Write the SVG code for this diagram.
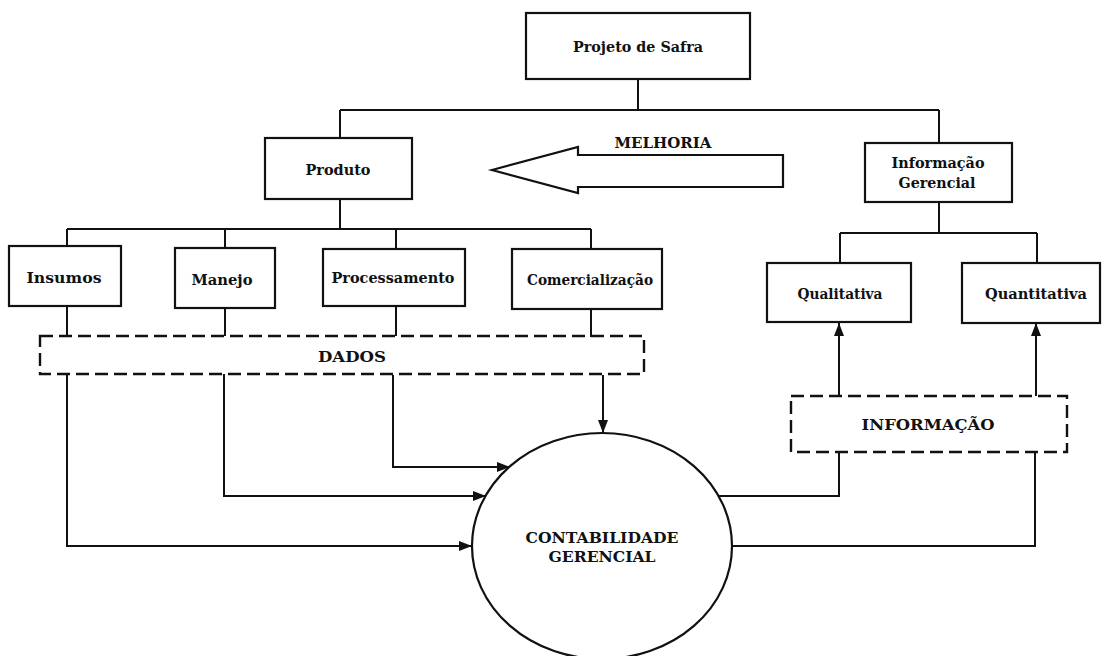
<svg xmlns="http://www.w3.org/2000/svg" width="1104" height="656" viewBox="0 0 1104 656">
  <style>
    .box { fill: #ffffff; stroke: #111111; stroke-width: 2.2; }
    .dash { fill: none; stroke: #111111; stroke-width: 2.4; stroke-dasharray: 13 6; }
    .wire { fill: none; stroke: #111111; stroke-width: 2; }
    .lbl { font-family: "DejaVu Serif", "Liberation Serif", serif; font-size: 15px; font-weight: bold; fill: #111111; text-anchor: middle; }
  </style>
  <defs>
    <marker id="arrow" viewBox="0 0 13 10" refX="13" refY="5" markerWidth="13" markerHeight="10" markerUnits="userSpaceOnUse" orient="auto">
      <path d="M0,0 L13,5 L0,10 z" fill="#111111"/>
    </marker>
  </defs>

  <rect width="1104" height="656" fill="#ffffff"/>

  <!-- tree connectors and data flows -->
  <g id="connectors">
    <!-- Projeto de Safra branches -->
    <path class="wire" d="M638,79 V110 M340,110 H939 M340,110 V138 M939,110 V143"/>
    <!-- Produto branches -->
    <path class="wire" d="M340,199 V229 M67,229 H591 M67,229 V246 M225,229 V248 M396,229 V249 M591,229 V249"/>
    <!-- Informação Gerencial branches -->
    <path class="wire" d="M939,202 V233 M840,233 H1037 M840,233 V263 M1037,233 V263"/>
    <!-- products down to DADOS -->
    <path class="wire" d="M67,306 V336 M225,308 V336 M396,306 V336 M591,309 V337"/>
    <!-- DADOS into the accounting circle -->
    <path class="wire" d="M603,375 V433" marker-end="url(#arrow)"/>
    <path class="wire" d="M393,375 V467 H510" marker-end="url(#arrow)"/>
    <path class="wire" d="M224,374 V496 H486" marker-end="url(#arrow)"/>
    <path class="wire" d="M67,374 V546 H472" marker-end="url(#arrow)"/>
    <!-- circle out to INFORMAÇÃO -->
    <path class="wire" d="M719,496 H839 V452"/>
    <path class="wire" d="M732,546 H1035 V452"/>
    <!-- INFORMAÇÃO up to the two kinds -->
    <path class="wire" d="M839,396 V323" marker-end="url(#arrow)"/>
    <path class="wire" d="M1036,396 V323" marker-end="url(#arrow)"/>
  </g>

  <g id="projeto-safra">
    <rect class="box" x="526" y="13" width="224" height="66"/>
    <text class="lbl" x="638" y="52" textLength="130" lengthAdjust="spacingAndGlyphs">Projeto de Safra</text>
  </g>

  <g id="produto">
    <rect class="box" x="265" y="138" width="147" height="61"/>
    <text class="lbl" x="338" y="175" textLength="65" lengthAdjust="spacingAndGlyphs">Produto</text>
  </g>

  <g id="melhoria">
    <polygon class="box" points="492,170 578,147 578,155 783,155 783,187 578,187 578,193"/>
    <text class="lbl" x="663" y="148" textLength="97" lengthAdjust="spacingAndGlyphs">MELHORIA</text>
  </g>

  <g id="informacao-gerencial">
    <rect class="box" x="865" y="143" width="147" height="59"/>
    <text class="lbl" x="938" y="168" textLength="93" lengthAdjust="spacingAndGlyphs">Informação</text>
    <text class="lbl" x="937" y="188" textLength="77" lengthAdjust="spacingAndGlyphs">Gerencial</text>
  </g>

  <g id="insumos">
    <rect class="box" x="9" y="246" width="112" height="60"/>
    <text class="lbl" x="64" y="283" textLength="75" lengthAdjust="spacingAndGlyphs">Insumos</text>
  </g>

  <g id="manejo">
    <rect class="box" x="175" y="248" width="100" height="60"/>
    <text class="lbl" x="222" y="285" textLength="61" lengthAdjust="spacingAndGlyphs">Manejo</text>
  </g>

  <g id="processamento">
    <rect class="box" x="323" y="249" width="142" height="57"/>
    <text class="lbl" x="393" y="283" textLength="123" lengthAdjust="spacingAndGlyphs">Processamento</text>
  </g>

  <g id="comercializacao">
    <rect class="box" x="512" y="249" width="150" height="60"/>
    <text class="lbl" x="590" y="285" textLength="126" lengthAdjust="spacingAndGlyphs">Comercialização</text>
  </g>

  <g id="qualitativa">
    <rect class="box" x="767" y="263" width="144" height="59"/>
    <text class="lbl" x="840" y="299" textLength="85" lengthAdjust="spacingAndGlyphs">Qualitativa</text>
  </g>

  <g id="quantitativa">
    <rect class="box" x="962" y="263" width="138" height="60"/>
    <text class="lbl" x="1036" y="299" textLength="102" lengthAdjust="spacingAndGlyphs">Quantitativa</text>
  </g>

  <g id="dados">
    <rect class="dash" x="40" y="336" width="604" height="38"/>
    <text class="lbl" x="352" y="362" textLength="68" lengthAdjust="spacingAndGlyphs">DADOS</text>
  </g>

  <g id="informacao">
    <rect class="dash" x="791" y="396" width="276" height="56"/>
    <text class="lbl" x="928" y="430" textLength="133" lengthAdjust="spacingAndGlyphs">INFORMAÇÃO</text>
  </g>

  <g id="contabilidade-gerencial">
    <ellipse class="box" cx="602" cy="546" rx="130" ry="113"/>
    <text class="lbl" x="602" y="543" textLength="153" lengthAdjust="spacingAndGlyphs">CONTABILIDADE</text>
    <text class="lbl" x="602" y="562" textLength="107" lengthAdjust="spacingAndGlyphs">GERENCIAL</text>
  </g>
</svg>
